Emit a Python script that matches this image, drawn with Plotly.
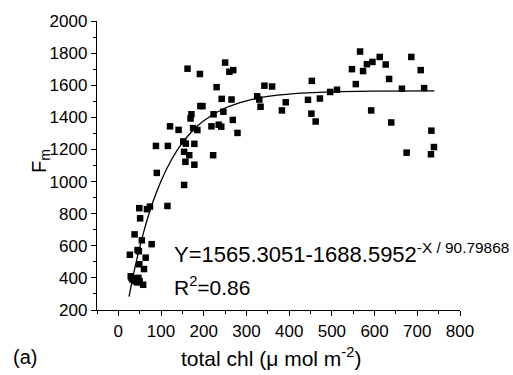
import plotly.graph_objects as go

# scatter data: total chl (x) vs Fm (y)
chl = [27, 29, 31, 33, 37, 40, 44, 47, 50, 58, 49, 60, 64, 45, 48, 38, 55, 78, 51, 49, 67, 74,
       88, 90, 116, 115, 121, 141, 152, 158, 178, 154, 166, 157, 178, 154, 171, 169, 175, 185,
       162, 191, 192, 197, 218, 223, 230, 242, 265, 246, 235, 241, 222, 250, 260, 269, 268, 279,
       325, 330, 333, 342, 360, 383, 392, 444, 453, 452, 462, 472, 496, 512, 547, 556, 566, 573,
       582, 595, 612, 626, 634, 592, 639, 664, 675, 686, 708, 716, 733, 739, 732]
fm = [544, 410, 400, 390, 380, 395, 372, 400, 378, 357, 485, 455, 526, 573, 566, 671, 634, 610, 771, 834, 828, 844,
      1222, 1054, 1222, 848, 1344, 1322, 1250, 1236, 1235, 1185, 1164, 1123, 1105, 979, 1419, 1393, 1333, 1321,
      1703, 1670, 1470, 1470, 1344, 1419, 1588, 1515, 1511, 1435, 1354, 1342, 1164, 1741, 1684, 1694, 1384, 1303,
      1531, 1511, 1466, 1597, 1592, 1443, 1494, 1509, 1627, 1423, 1374, 1517, 1558, 1572, 1700, 1607, 1810, 1688,
      1731, 1745, 1776, 1729, 1639, 1443, 1368, 1578, 1180, 1776, 1694, 1582, 1317, 1215, 1170]

# fitted curve
fit_x = [25, 40, 60, 80, 100, 125, 150, 175, 200, 250, 300, 350, 400, 500, 600, 740]
fit_y = [283, 478, 693, 866, 1004, 1139, 1242, 1320, 1379, 1458, 1503, 1530, 1545, 1558, 1563, 1565]

x_ticks = [0, 100, 200, 300, 400, 500, 600, 700, 800]
y_ticks = [200, 400, 600, 800, 1000, 1200, 1400, 1600, 1800, 2000]

FONT = "Liberation Sans, Arial, sans-serif"

fig = go.Figure()
fig.add_trace(go.Scatter(x=fit_x, y=fit_y, mode="lines", line=dict(color="black", width=1.3, shape="spline"),
                         showlegend=False, hoverinfo="skip"))
fig.add_trace(go.Scatter(x=chl, y=fm, mode="markers",
                         marker=dict(symbol="square", size=6.5, color="black", line=dict(width=0)),
                         showlegend=False))

L, R, T, B = 97, 53, 15, 65
W, H = 513, 375
pw, ph = W - L - R, H - T - B

def px(xp):
    return (xp - L) / pw

def py(yp):
    return (H - B - yp) / ph

fig.update_layout(
    width=W, height=H,
    margin=dict(l=L, r=R, t=T, b=B, pad=0),
    paper_bgcolor="white", plot_bgcolor="white",
    font=dict(family=FONT, color="black", size=17),
    xaxis=dict(range=[-50, 800], tickvals=x_ticks, ticktext=[str(v) for v in x_ticks],
               showgrid=False, zeroline=False, showline=True, linecolor="black", linewidth=1.3,
               ticks="outside", ticklen=5, tickwidth=1.2, tickcolor="black",
               minor=dict(dtick=50, tick0=0, ticks="outside", ticklen=3, tickwidth=1.2, tickcolor="black"),
               tickfont=dict(size=17)),
    yaxis=dict(range=[200, 2000], tickvals=y_ticks, ticktext=[str(v) for v in y_ticks],
               showgrid=False, zeroline=False, showline=True, linecolor="black", linewidth=1.3,
               ticks="outside", ticklen=5, tickwidth=1.2, tickcolor="black",
               minor=dict(dtick=100, tick0=0, ticks="outside", ticklen=3, tickwidth=1.2, tickcolor="black"),
               tickfont=dict(size=17)),
)

fig.add_annotation(text="Y=1565.3051-1688.5952<sup>-X / 90.79868</sup>", xref="paper", yref="paper",
                   x=px(172), y=py(252), xanchor="left", yanchor="middle", showarrow=False,
                   font=dict(size=22, family=FONT))
fig.add_annotation(text="R<sup>2</sup>=0.86", xref="paper", yref="paper",
                   x=px(172), y=py(285), xanchor="left", yanchor="middle", showarrow=False,
                   font=dict(size=21, family=FONT))
fig.add_annotation(text="total chl (\u03bc mol m<sup>-2</sup>)", xref="paper", yref="paper",
                   x=px(271), y=py(358), xanchor="center", yanchor="middle", showarrow=False,
                   font=dict(size=21, family=FONT))
fig.add_annotation(text="(a)", xref="paper", yref="paper",
                   x=px(25), y=py(358), xanchor="center", yanchor="middle", showarrow=False,
                   font=dict(size=20, family=FONT))
fig.add_annotation(text="F<sub>m</sub>", xref="paper", yref="paper", textangle=-90,
                   x=px(40), y=py(158), xanchor="center", yanchor="middle", showarrow=False,
                   font=dict(size=20, family=FONT))

fig.write_html("out.html", config={"displayModeBar": False},
               post_script="document.body.style.margin='0';document.body.style.overflow='hidden';")
